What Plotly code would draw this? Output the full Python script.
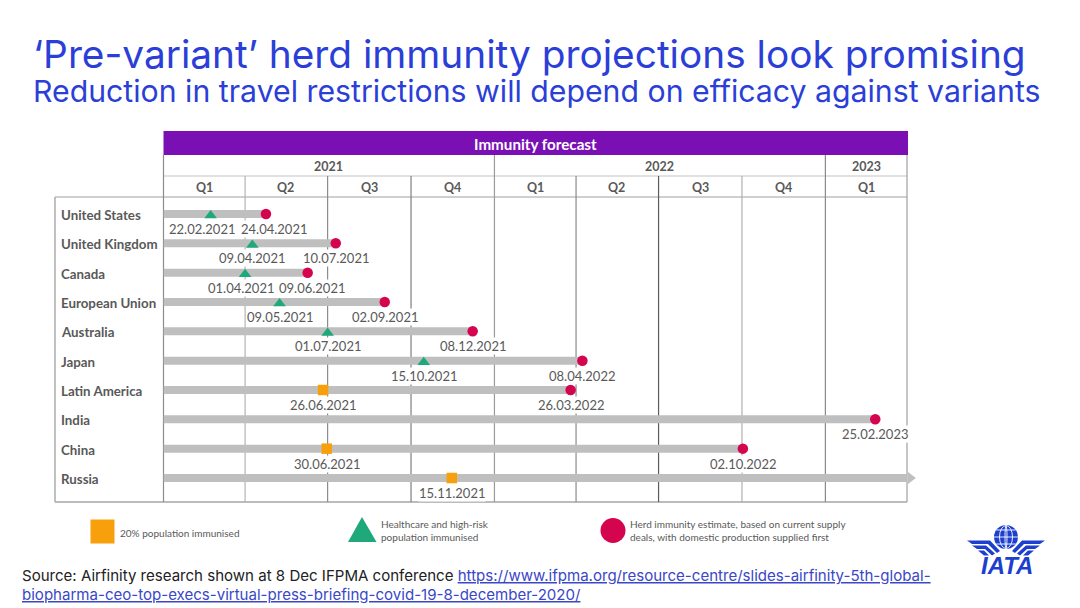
import datetime as dt
import plotly.graph_objects as go

# ---------- data ----------
REGIONS = ["United States", "United Kingdom", "Canada", "European Union", "Australia",
           "Japan", "Latin America", "India", "China", "Russia"]
MILESTONE_DATES = ["2021-02-22", "2021-04-09", "2021-04-01", "2021-05-09", "2021-07-01",
                   "2021-10-15", "2021-06-26", None, "2021-06-30", "2021-11-15"]
MILESTONE_KINDS = ["risk", "risk", "risk", "risk", "risk", "risk", "pop20", None, "pop20", "pop20"]
HERD_DATES = ["2021-04-24", "2021-07-10", "2021-06-09", "2021-09-02", "2021-12-08",
              "2022-04-08", "2022-03-26", "2023-02-25", "2022-10-02", None]
YEARS = ["2021", "2022", "2023"]
YEAR_STARTS = ["2021-01-01", "2022-01-01", "2023-01-01", "2023-04-01"]
QUARTERS = ["Q1", "Q2", "Q3", "Q4", "Q1", "Q2", "Q3", "Q4", "Q1"]
QUARTER_STARTS = ["2021-01-01", "2021-04-01", "2021-07-01", "2021-10-01", "2022-01-01",
                  "2022-04-01", "2022-07-01", "2022-10-01", "2023-01-01", "2023-04-01"]
AXIS_START = "2021-01-01"
TABLE_END = "2023-04-01"
AXIS_END = "2023-04-15"
ARROW_TIP = "2023-04-05"
LEGEND_TEXT = ["20% population immunised",
               "Healthcare and high-risk<br>population immunised",
               "Herd immunity estimate, based on current supply<br>deals, with domestic production supplied first"]
TITLE = "‘Pre-variant’ herd immunity projections look promising"
SUBTITLE = "Reduction in travel restrictions will depend on efficacy against variants"
URL1 = "https://www.ifpma.org/resource-centre/slides-airfinity-5th-global-"
URL2 = "biopharma-ceo-top-execs-virtual-press-briefing-covid-19-8-december-2020/"

# ---------- style ----------
W, H = 1080, 608
BLUE = "#2b3fd8"
PURPLE = "#7a10b4"
GREEN = "#1fa97a"
RED = "#d5044f"
ORANGE = "#f7a00c"
BAR = "#bfbfbf"
TXT = "#595959"
LOGO = "#1c3fce"
CHART_FONT = "Lato"
GRID = ["#b3b3b3", "#8c8c8c", "#7f7f7f", "#9a9a9a", "#8a8a8a", "#5c5c5c", "#b0b0b0", "#8a8a8a", "#8a8a8a"]
LABEL_SHIFT_PX = {"2021-02-22": -9, "2021-04-24": 8, "2021-04-01": -4, "2021-06-09": 4}


def px(x):
    return x / W


def py(y):
    return 1 - y / H


def fmt(d):
    return dt.date.fromisoformat(d).strftime("%d.%m.%Y")


def poly(points):
    return "M" + " L".join(f"{px(a):.5f},{py(b):.5f}" for a, b in points) + " Z"


ROWH = 29.33
fig = go.Figure()

# bars
bx, by = [], []
for i, r in enumerate(REGIONS):
    bx += [AXIS_START, HERD_DATES[i] or TABLE_END, None]
    by += [i, i, None]
fig.add_trace(go.Scatter(x=bx, y=by, mode="lines", line=dict(color=BAR, width=8), cliponaxis=False,
                         hoverinfo="skip", showlegend=False))
# arrow head
fig.add_trace(go.Scatter(x=[ARROW_TIP], y=[REGIONS.index("Russia")], mode="markers", cliponaxis=False,
                         marker=dict(symbol="triangle-right", size=10.5, color=BAR), showlegend=False))
# milestones
tx = [d for d, k in zip(MILESTONE_DATES, MILESTONE_KINDS) if k == "risk"]
ty = [i + 0.055 for i, k in enumerate(MILESTONE_KINDS) if k == "risk"]
fig.add_trace(go.Scatter(x=tx, y=ty, mode="markers", cliponaxis=False, showlegend=False,
                         marker=dict(symbol="triangle-up", size=11, color=GREEN)))
sx = [d for d, k in zip(MILESTONE_DATES, MILESTONE_KINDS) if k == "pop20"]
sy = [i for i, k in enumerate(MILESTONE_KINDS) if k == "pop20"]
fig.add_trace(go.Scatter(x=sx, y=sy, mode="markers", cliponaxis=False, showlegend=False,
                         marker=dict(symbol="square", size=10.5, color=ORANGE)))
cx = [d for d in HERD_DATES if d]
cy = [i for i, d in enumerate(HERD_DATES) if d]
fig.add_trace(go.Scatter(x=cx, y=cy, mode="markers", cliponaxis=False, showlegend=False,
                         marker=dict(symbol="circle", size=10.5, color=RED)))

shapes, ann = [], []


def text(t, x, y, size, color, family=CHART_FONT, xanchor="center", xref="paper", yref="paper", **kw):
    ann.append(dict(text=t, xref=xref, yref=yref, x=x, y=y, xanchor=xanchor, yanchor="middle", showarrow=False,
                    font=dict(family=family, size=size, color=color), **kw))


def line_px(x0, y0, x1, y1, color, width=1.2):
    shapes.append(dict(type="line", xref="paper", yref="paper", x0=px(x0), x1=px(x1), y0=py(y0), y1=py(y1),
                       line=dict(color=color, width=width), layer="below"))


# chart frame
TOP, HEAD_Q, HEAD_Y, BAND_B, BAND_T, BOTTOM = 197, 176, 155, 155, 131, 502
LEFT, BOX_L, RIGHT = 163.5, 55, 907
AX_RIGHT = RIGHT + 14 * 661.5 / 730
shapes.append(dict(type="rect", xref="paper", yref="paper", x0=px(LEFT), x1=px(RIGHT + 1), y0=py(BAND_B), y1=py(BAND_T),
                   fillcolor=PURPLE, line_width=0, layer="below"))
line_px(LEFT, HEAD_Q, RIGHT, HEAD_Q, "#c4c4c4")
line_px(BOX_L, TOP, RIGHT, TOP, "#a0a0a0", 1.2)
line_px(BOX_L, BOTTOM, RIGHT, BOTTOM, "#a6a6a6", 1.4)
line_px(BOX_L, TOP, BOX_L, BOTTOM, "#a6a6a6", 1.4)
line_px(LEFT, BAND_B, LEFT, BOTTOM, "#8c8c8c", 1.2)
line_px(RIGHT, BAND_B, RIGHT, BOTTOM, "#a0a0a0", 1.2)
for i, q in enumerate(QUARTER_STARTS[1:-1]):
    y_top = HEAD_Y if q in YEAR_STARTS else HEAD_Q
    shapes.append(dict(type="line", xref="x", yref="paper", x0=q, x1=q, y0=py(BOTTOM), y1=py(y_top),
                       line=dict(color=GRID[i], width=1.2), layer="below"))


def mid(a, b):
    a, b = dt.date.fromisoformat(a), dt.date.fromisoformat(b)
    return (a + (b - a) / 2).isoformat()


text("<b>Immunity forecast</b>", px(535.5), py(143.5), 15.2, "white")
for i, y in enumerate(YEARS):
    text(f"<b>{y}</b>", mid(YEAR_STARTS[i], YEAR_STARTS[i + 1]), py(166), 12.5, TXT, xref="x")
for i, q in enumerate(QUARTERS):
    text(f"<b>{q}</b>", mid(QUARTER_STARTS[i], QUARTER_STARTS[i + 1]), py(187), 12.5, TXT, xref="x")

for i, r in enumerate(REGIONS):
    text(f"<b>{r}</b>", px(59), i, 13.3, TXT, xanchor="left", yref="y", yshift=-1)
for d in (MILESTONE_DATES, HERD_DATES):
    for i, v in enumerate(d):
        if v:
            text(fmt(v), v, i, 13, TXT, xref="x", yref="y", yshift=-15, xshift=LABEL_SHIFT_PX.get(v, 0),
                 bgcolor="white", borderpad=0)

# legend
shapes.append(dict(type="rect", xref="paper", yref="paper", x0=px(90.5), x1=px(114.5), y0=py(543.5), y1=py(519.5),
                   fillcolor=ORANGE, line_width=0))
text(LEGEND_TEXT[0], px(118), py(532.5), 10, TXT, xanchor="left", align="left")
shapes.append(dict(type="path", xref="paper", yref="paper", path=poly([(348, 542), (362, 517), (376.5, 542)]),
                   fillcolor=GREEN, line_width=0))
text(LEGEND_TEXT[1], px(379.5), py(530), 10, TXT, xanchor="left", align="left")
shapes.append(dict(type="circle", xref="paper", yref="paper", x0=px(600.5), x1=px(625.5), y0=py(543), y1=py(518),
                   fillcolor=RED, line_width=0))
text(LEGEND_TEXT[2], px(628), py(530), 10, TXT, xanchor="left", align="left")

# titles
text(TITLE, px(30.5), py(53), 38.8, BLUE, family="Inter", xanchor="left")
text(SUBTITLE, px(30.5), py(91), 30.25, BLUE, family="Inter", xanchor="left")
# source
LINK = "#3a47c8"
text(f'Source: Airfinity research shown at 8 Dec IFPMA conference <span style="color:{LINK}"><u>{URL1}</u></span>',
     px(20), py(575), 15.05, "#222222", family="Inter", xanchor="left")
text(f'<span style="color:{LINK}"><u>{URL2}</u></span>', px(20), py(594), 15.05, LINK, family="Inter", xanchor="left")

# logo
GX, GY, GR = 1006, 537, 12
shapes.append(dict(type="circle", xref="paper", yref="paper", x0=px(GX - GR), x1=px(GX + GR), y0=py(GY + GR), y1=py(GY - GR),
                   fillcolor=LOGO, line_width=0))
for dx in (5.5, 11):
    shapes.append(dict(type="circle", xref="paper", yref="paper", x0=px(GX - GR + dx), x1=px(GX + GR - dx),
                       y0=py(GY + GR - 0.5), y1=py(GY - GR + 0.5), line=dict(color="white", width=0.9)))
for dy in (-7, 0, 7):
    half = (GR * GR - dy * dy) ** 0.5
    shapes.append(dict(type="line", xref="paper", yref="paper", x0=px(GX - half), x1=px(GX + half), y0=py(GY + dy), y1=py(GY + dy),
                       line=dict(color="white", width=0.9)))
WING = [[(967, 540.5), (990, 540.5), (1000, 551), (997, 553), (988, 544), (972, 544)],
        [(972, 545.5), (986, 545.5), (995, 553.5), (992, 555.5), (985, 549), (977, 549)],
        [(978, 550.5), (984, 550.5), (989, 555.5), (984, 555.5)]]
for part in WING:
    shapes.append(dict(type="path", xref="paper", yref="paper", path=poly(part), fillcolor=LOGO, line_width=0))
    shapes.append(dict(type="path", xref="paper", yref="paper", path=poly([(2 * GX - a, b) for a, b in part]),
                       fillcolor=LOGO, line_width=0))
text("<b><i>IATA</i></b>", px(1006.5), py(565.5), 24, LOGO, family="Liberation Sans")

fig.update_layout(
    width=W, height=H, margin=dict(l=0, r=0, t=0, b=0), paper_bgcolor="white", plot_bgcolor="rgba(0,0,0,0)",
    showlegend=False, shapes=shapes, annotations=ann, hovermode=False,
    xaxis=dict(type="date", range=[AXIS_START, AXIS_END], domain=[px(LEFT), px(AX_RIGHT)], visible=False),
    yaxis=dict(range=[9 + (BOTTOM - 478) / ROWH, (TOP - 214) / ROWH], domain=[py(BOTTOM), py(TOP)], visible=False),
)
fig.write_html("out.html", config=dict(displayModeBar=False),
               post_script="document.body.style.margin='0';document.body.style.overflow='hidden';")
